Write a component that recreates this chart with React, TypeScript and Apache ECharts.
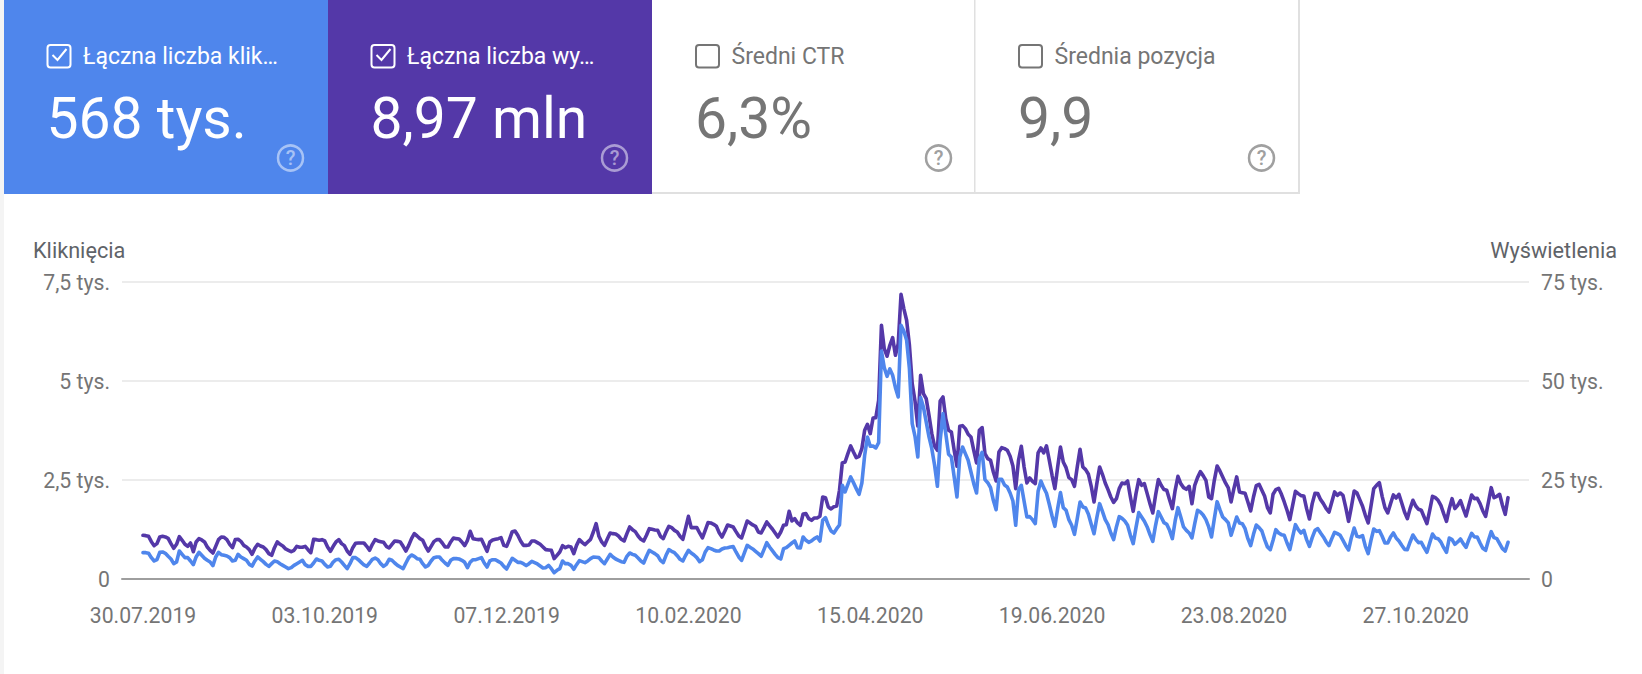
import React, { useEffect, useRef } from "react";
import * as echarts from "echarts";

const tickDays = [0, 65, 130, 195, 260, 325, 390, 455];
const tickLabels = ["30.07.2019", "03.10.2019", "07.12.2019", "10.02.2020", "15.04.2020", "19.06.2020", "23.08.2020", "27.10.2020"];
const leftAxisLabels: Record<number, string> = { 0: "0", 2500: "2,5 tys.", 5000: "5 tys.", 7500: "7,5 tys." };
const rightAxisLabels: Record<number, string> = { 0: "0", 25000: "25 tys.", 50000: "50 tys.", 75000: "75 tys." };

const impressions = [
11030,10950,10780,9430,8420,8930,10610,10780,10610,10270,8930,7750,8760,10690,9770,8760,8250,9090,6900,9350,10190,9850,9350,8080,7240,6570,8250,9940,10610,10530,
9940,8760,7910,9940,10020,9510,8500,8080,7410,6230,7750,8760,8340,8080,7410,6400,5980,7910,9350,8760,8340,7580,7240,6900,7240,8250,8000,8000,8250,7410,
6650,10020,9940,9770,9940,9600,8080,6990,8250,9350,9940,8930,8420,7070,6230,7910,9010,9090,9090,9090,8250,7240,8760,9940,9600,9430,9260,8250,7830,8760,
9600,9510,9350,8250,7070,8500,10190,11450,10860,10190,9770,8250,7070,8250,9430,9940,9940,9090,8080,8080,9350,10360,10190,10100,9350,8420,9770,12040,10190,10020,
9940,10020,8500,6990,9350,9850,10020,10190,10440,8500,8250,9940,11960,12120,11030,9600,8500,8500,8590,9600,9600,9180,8760,8080,7410,7330,7240,5140,5980,6820,
8420,7910,8250,8080,6400,8500,9940,9260,8670,9350,10020,11870,13980,10780,9350,8500,10100,11620,11450,11370,10860,10020,9600,11450,13140,12460,11960,10860,10020,9600,
11030,12710,12550,12380,12290,10780,10190,11870,13300,12970,12290,11870,10780,10020,12880,15830,12970,12970,12970,11620,10360,12290,14230,14150,13810,13300,11700,10610,12040,13640,
13390,13140,11960,10860,10360,12460,14650,14150,13640,13300,11870,11620,12970,14400,13470,12630,11620,10610,11870,13560,13720,17090,14650,15240,14150,13560,16420,16500,15240,14820,
15410,15410,15830,20710,20540,18190,17680,18270,18440,22400,29300,29550,31660,33600,32080,30650,30990,32920,37550,39070,36710,40670,40750,45130,64080,58180,56250,59020,60960,56500,
59450,71910,68290,65340,59020,49340,44960,38650,51450,46820,45550,41340,36710,33510,32500,44960,45970,40500,37550,37130,32500,28460,38560,38730,37970,36540,35870,32500,29300,37550,
38230,31660,30400,29980,27030,24750,32080,33170,32920,32500,30990,28540,22820,29980,33510,28290,24250,25510,24670,24080,31830,33090,31830,33600,29980,26190,22820,28290,33340,29550,
28120,25600,25090,23410,28290,32750,28290,27620,26440,23410,19450,24080,28290,26440,24250,22570,20710,19370,20290,22820,24250,24080,24750,20710,17090,21560,25090,23660,24080,21560,
19030,16670,21130,25090,23660,22570,22400,20040,17770,22400,25930,24080,23070,22650,23410,19030,23660,25600,27110,26100,24920,20710,20290,24920,28540,27280,25770,24250,22990,19450,
22820,25770,21980,21810,21640,19450,17180,20710,23580,23910,22400,20880,18020,16670,21390,22570,22900,21390,19450,17350,14990,18610,22140,21560,21050,20970,17770,15160,19030,21640,
21560,20040,19030,17770,16920,19450,21980,21130,21720,21130,18020,14570,18190,22230,21720,20040,18360,16080,14150,18360,22820,23660,24330,20880,18020,16670,19030,21220,20460,21390,
19200,16920,15240,17770,19870,18440,17600,17350,15660,13980,17350,20880,20540,19870,18610,16500,14570,17770,20290,17770,18610,19790,17770,15910,18610,21220,20290,20380,19030,17180,
15830,19450,23070,20540,20880,21390,18610,16330,20540,
];

const clicks = [
665,665,648,539,455,488,674,682,648,573,505,387,429,707,623,539,539,455,362,556,674,598,522,472,429,337,556,674,615,598,
581,539,455,472,623,556,514,472,370,328,455,556,497,438,370,320,387,455,438,387,345,303,261,286,345,387,429,472,362,320,
320,404,505,472,455,370,303,320,429,488,497,429,345,261,387,539,539,488,421,354,320,404,497,530,488,387,320,370,497,472,
404,345,303,261,404,539,606,573,514,497,387,303,345,455,539,556,556,472,404,345,472,514,514,505,472,421,286,429,488,488,
514,539,404,303,455,488,488,446,404,320,253,387,522,472,421,421,387,337,387,446,413,379,328,278,286,345,261,160,219,261,
455,387,387,345,244,362,463,438,413,455,514,556,547,539,455,387,505,623,556,505,472,438,421,573,657,623,598,530,455,404,
573,724,682,640,589,472,413,598,741,699,665,589,497,455,598,724,657,606,539,438,488,682,791,766,733,707,707,758,783,791,
808,817,682,556,472,657,850,800,758,699,640,573,741,918,808,716,623,539,505,766,791,850,909,960,791,783,1061,977,926,960,
1019,1061,960,1482,1549,1356,1212,1162,1271,1364,2366,2198,2391,2577,2433,2282,2139,2425,3124,3587,3351,3360,3309,3444,5759,5338,5119,5305,5145,4833,
4597,6408,6264,6029,5313,3924,3604,3082,4580,4345,3966,3587,3292,2871,2341,3503,4176,3671,3149,3082,2577,2071,3082,3334,3166,2998,2703,2408,2172,3040,
3200,2509,2433,2307,1987,1751,2518,2518,2374,2324,2172,1970,1356,2257,2366,1962,1566,1575,1499,1398,2214,2475,2307,2164,1886,1591,1330,1777,2181,1802,
1735,1499,1356,1128,1524,1945,1819,1793,1633,1381,1145,1549,1903,1709,1499,1372,1162,994,1314,1575,1532,1465,1356,1103,893,1297,1676,1566,1457,1314,
1120,951,1356,1701,1566,1423,1381,1229,1019,1465,1802,1566,1314,1229,1162,1036,1398,1735,1692,1617,1499,1314,1061,1524,1953,1751,1566,1499,1415,1103,
1330,1566,1415,1398,1271,1019,842,1128,1364,1297,1212,994,808,741,977,1246,1162,1120,1103,909,741,1061,1372,1246,1162,1229,994,825,1044,1229,
1271,1162,1061,935,842,1019,1179,1145,1103,977,842,733,1044,1288,1078,1061,1095,825,640,977,1263,1204,1221,1078,909,909,1061,1162,1036,960,
850,749,741,935,1111,1002,918,926,791,674,909,1137,1036,1019,935,791,674,1036,994,876,935,1010,893,800,994,1154,1061,1061,909,775,
724,977,1196,1044,1019,893,766,707,926,
];

const BLUE = "#4f86ec";
const PURPLE = "#5438a8";
const GREY = "#757575";

const cardTitles = ["Łączna liczba klik…", "Łączna liczba wy…", "Średni CTR", "Średnia pozycja"];
const cardValues = ["568 tys.", "8,97 mln", "6,3%", "9,9"];

type Card = { x: number; w: number; bg: string | null; fg: string; checked: boolean; help: string };
const cards: Card[] = [
  { x: 4, w: 324, bg: BLUE, fg: "#ffffff", checked: true, help: "rgba(255,255,255,0.5)" },
  { x: 328, w: 324, bg: PURPLE, fg: "#ffffff", checked: true, help: "rgba(255,255,255,0.5)" },
  { x: 652, w: 323, bg: null, fg: GREY, checked: false, help: "#a0a0a0" },
  { x: 975, w: 324, bg: null, fg: GREY, checked: false, help: "#a0a0a0" },
];

function cardElements() {
  const out: any[] = [];
  out.push({ type: "rect", shape: { x: 0, y: 0, width: 4, height: 674 }, style: { fill: "#f4f4f4" } });
  out.push({ type: "rect", shape: { x: 652, y: 192, width: 648, height: 2 }, style: { fill: "#e0e0e0" } });
  out.push({ type: "rect", shape: { x: 974, y: 0, width: 1.5, height: 192 }, style: { fill: "#e0e0e0" } });
  out.push({ type: "rect", shape: { x: 1298, y: 0, width: 2, height: 194 }, style: { fill: "#e0e0e0" } });
  cards.forEach((c, i) => {
    if (c.bg) out.push({ type: "rect", shape: { x: c.x, y: 0, width: c.w, height: 194 }, style: { fill: c.bg } });
    const left = i < 2 ? c.x + 42.5 : c.x + 43;
    out.push({
      type: "rect",
      shape: { x: left + 1, y: 45, width: 23, height: 22.5, r: 3 },
      style: { fill: "transparent", stroke: c.fg, lineWidth: 2 },
    });
    if (c.checked) {
      out.push({
        type: "polyline",
        shape: { points: [[left + 6, 55], [left + 11, 60], [left + 20, 49]] },
        style: { stroke: c.fg, lineWidth: 2, fill: "none" },
      });
    }
    out.push({
      type: "text",
      x: left + 36.5,
      y: 56,
      style: { text: cardTitles[i], fill: c.fg, font: "400 23px Roboto", textVerticalAlign: "middle", textBaseline: "middle" },
    });
    out.push({
      type: "text",
      x: left,
      y: 118,
      style: { text: cardValues[i], fill: c.fg, font: "400 57px Roboto", textVerticalAlign: "middle", textBaseline: "middle" },
    });
    const cx = c.x + 286.5;
    out.push({ type: "circle", shape: { cx, cy: 158, r: 12.5 }, style: { fill: "transparent", stroke: c.help, lineWidth: 2.5 } });
    out.push({
      type: "text",
      x: cx,
      y: 158,
      style: { text: "?", fill: c.help, font: "500 20px Roboto", textAlign: "center", textVerticalAlign: "middle", textBaseline: "middle" },
    });
  });
  out.push({
    type: "text",
    x: 33,
    y: 250,
    style: { text: "Kliknięcia", fill: "#5f6368", font: "400 21.7px Roboto", textVerticalAlign: "middle", textBaseline: "middle" },
  });
  out.push({
    type: "text",
    x: 1617,
    y: 250,
    style: { text: "Wyświetlenia", fill: "#5f6368", font: "400 21.7px Roboto", textAlign: "right", textVerticalAlign: "middle", textBaseline: "middle" },
  });
  return out;
}

export default function App() {
  const ref = useRef<HTMLDivElement>(null);
  useEffect(() => {
    document.body.style.margin = "0";
    const chart = echarts.init(ref.current!, undefined, { renderer: "svg" });
    const labelStyle = { color: GREY, fontFamily: "Roboto", fontSize: 21.2 };
    const lineCommon = { cap: "round", join: "round", width: 3.6 };
    chart.setOption({
      animation: false,
      backgroundColor: "#ffffff",
      grid: { left: 122, right: 113, top: 282, height: 297, containLabel: false },
      graphic: { elements: cardElements() },
      xAxis: {
        type: "value",
        min: -7.5,
        max: 495.5,
        splitLine: { show: false },
        axisTick: { show: false },
        axisLine: { show: true, lineStyle: { color: "#9e9e9e", width: 2 } },
        axisLabel: {
          ...labelStyle,
          margin: 26,
          customValues: tickDays,
          formatter: (v: number) => tickLabels[tickDays.indexOf(v)] ?? "",
        },
      },
      yAxis: [
        {
          type: "value",
          min: 0,
          max: 7500,
          interval: 2500,
          axisLine: { show: false },
          axisTick: { show: false },
          splitLine: { show: true, lineStyle: { color: "#ececec", width: 2 } },
          axisLabel: { ...labelStyle, margin: 12, formatter: (v: number) => leftAxisLabels[v] ?? "" },
        },
        {
          type: "value",
          min: 0,
          max: 75000,
          interval: 25000,
          position: "right",
          axisLine: { show: false },
          axisTick: { show: false },
          splitLine: { show: false },
          axisLabel: { ...labelStyle, margin: 12, formatter: (v: number) => rightAxisLabels[v] ?? "" },
        },
      ],
      series: [
        {
          name: "Wyświetlenia",
          type: "line",
          yAxisIndex: 1,
          showSymbol: false,
          data: impressions.map((v, i) => [i, v]),
          lineStyle: { color: PURPLE, ...lineCommon },
          itemStyle: { color: PURPLE },
        },
        {
          name: "Kliknięcia",
          type: "line",
          yAxisIndex: 0,
          showSymbol: false,
          data: clicks.map((v, i) => [i, v]),
          lineStyle: { color: BLUE, ...lineCommon },
          itemStyle: { color: BLUE },
        },
      ],
    });
    return () => chart.dispose();
  }, []);
  return <div ref={ref} style={{ position: "absolute", left: 0, top: 0, width: 1642, height: 674 }} />;
}
